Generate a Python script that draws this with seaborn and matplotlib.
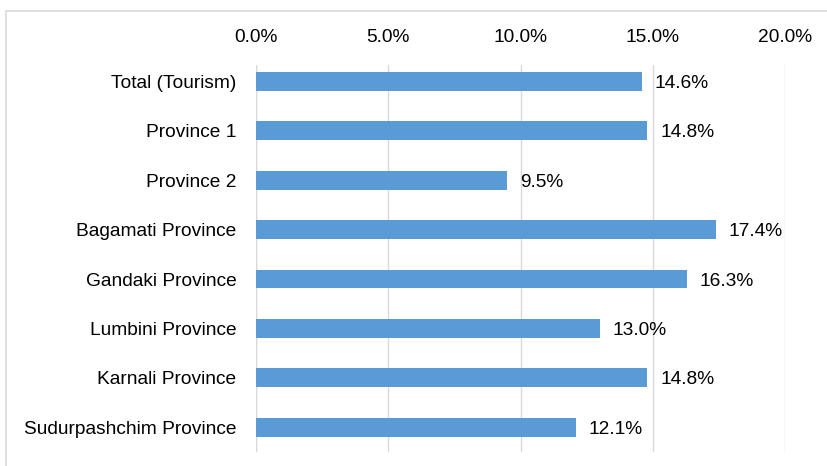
import matplotlib
matplotlib.use("Agg")
import matplotlib.pyplot as plt
import seaborn as sns
import pandas as pd
from matplotlib.patches import Rectangle
from matplotlib.ticker import FuncFormatter

categories = ["Total (Tourism)", "Province 1", "Province 2", "Bagamati Province",
              "Gandaki Province", "Lumbini Province", "Karnali Province",
              "Sudurpashchim Province"]
values = [14.6, 14.8, 9.5, 17.4, 16.3, 13.0, 14.8, 12.1]
x_ticks = [0, 5, 10, 15, 20]

df = pd.DataFrame({"region": categories, "share": values})

sns.set_theme(style="white")
plt.rcParams["font.family"] = ["Liberation Sans", "DejaVu Sans"]

FS = 13.8
W, H = 827, 466
fig = plt.figure(figsize=(W / 100, H / 100), dpi=100)
ax = fig.add_axes([256 / W, 1 - 452 / H, (785 - 256) / W, (452 - 65) / H])

sns.barplot(data=df, y="region", x="share", color="#5B9BD5", saturation=1,
            width=0.38, linewidth=0, ax=ax, zorder=3)

ax.set_xlim(0, 20)
ax.set_ylim(7.5, -0.33)
ax.set_xticks(x_ticks)
ax.xaxis.set_major_formatter(FuncFormatter(lambda v, p: f"{v:.1f}%"))
ax.xaxis.tick_top()
ax.tick_params(axis="x", length=0, pad=14, labelsize=FS, colors="#000000")
ax.tick_params(axis="y", length=0, pad=14, labelsize=FS, colors="#000000")
ax.set_xlabel("")
ax.set_ylabel("")
ax.grid(axis="x", color="#D9D9D9", linewidth=1, zorder=0)
for s in ax.spines.values():
    s.set_visible(False)
ax.axvline(0, color="#D9D9D9", linewidth=1, zorder=1)

for i, v in enumerate(values):
    ax.text(v + 0.48, i, f"{v:.1f}%", va="center_baseline", ha="left",
            fontsize=FS, color="#000000")

# outer chart frame
fig.patches.append(Rectangle((6 / W, -0.05), 1.1, 1 - 11 / H + 0.05,
                             transform=fig.transFigure, fill=False,
                             edgecolor="#D9D9D9", linewidth=1.2))

fig.savefig("out.png", dpi=100)
